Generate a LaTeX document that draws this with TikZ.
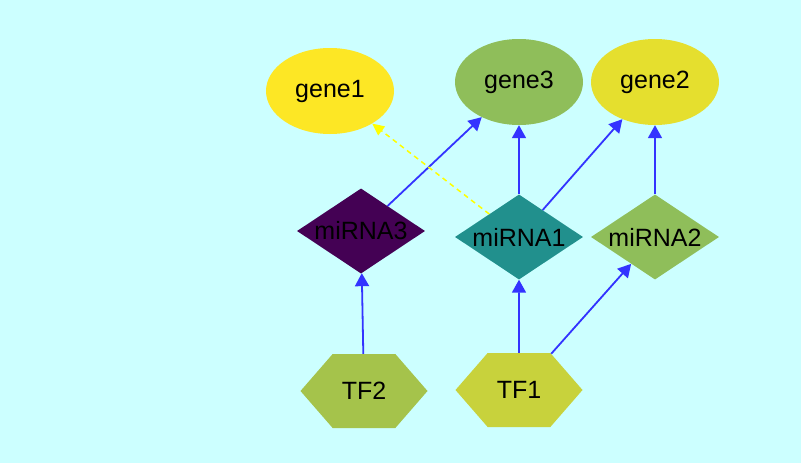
\documentclass[tikz,border=0pt]{standalone}
\usepackage{fontspec}
\setmainfont{Liberation Sans}
\usepackage{tikz}
\usetikzlibrary{arrows.meta,shapes.geometric,shapes.symbols}
\definecolor{bgcyan}{RGB}{204,255,255}
\definecolor{edgeblue}{RGB}{51,51,255}
\definecolor{dashyel}{RGB}{255,255,0}
\definecolor{gyellow}{RGB}{253,231,37}
\definecolor{ggreen}{RGB}{143,190,90}
\definecolor{gmustard}{RGB}{229,223,46}
\definecolor{mpurple}{RGB}{68,1,84}
\definecolor{mteal}{RGB}{33,144,141}
\definecolor{tfgreen}{RGB}{165,195,75}
\definecolor{tflime}{RGB}{200,210,60}
\tikzset{
  gene/.style={ellipse,draw=none,minimum width=128pt,minimum height=86pt,
               inner sep=0pt,font=\fontsize{25}{28}\selectfont},
  mirna/.style={diamond,aspect=1.5,draw=none,minimum width=128pt,minimum height=85pt,
                inner sep=0pt,font=\fontsize{25}{28}\selectfont},
  tf/.style={signal,signal to=east and west,signal pointer angle=98,draw=none,
             minimum width=127pt,minimum height=74pt,inner sep=0pt,
             font=\fontsize{25}{28}\selectfont},
  flow/.style={-{Triangle[length=13pt,width=14pt]},line width=1.8pt,draw=edgeblue},
  flowd/.style={-{Triangle[length=12pt,width=11pt]},line width=1.5pt,draw=dashyel,
                dash pattern=on 5pt off 4pt},
}
\begin{document}
\begin{tikzpicture}[x=1pt,y=-1pt]
  \fill[bgcyan] (0,0) rectangle (801,463);
  \useasboundingbox (0,0) rectangle (801,463);

  \node[gene,fill=gyellow] (gene1) at (330,91) {gene1};
  \node[gene,fill=ggreen] (gene3) at (519,82) {gene3};
  \node[gene,fill=gmustard] (gene2) at (655,82) {gene2};

  \node[mirna,fill=mpurple] (mirna3) at (361,231) {miRNA3};
  \node[mirna,fill=mteal] (mirna1) at (519,237) {miRNA1};
  \node[mirna,fill=ggreen] (mirna2) at (655,237) {miRNA2};

  \node[tf,fill=tfgreen] (tf2) at (364,391) {TF2};
  \node[tf,fill=tflime] (tf1) at (519,390) {TF1};

  \draw[flow] (tf2) -- (mirna3);
  \draw[flow] (tf1) -- (mirna1);
  \draw[flow] (tf1) -- (mirna2);
  \draw[flow] (mirna3) -- (gene3);
  \draw[flow] (mirna1) -- (gene3);
  \draw[flow] (mirna1) -- (gene2);
  \draw[flow] (mirna2) -- (gene2);
  \draw[flowd] (mirna1) -- (gene1);
\end{tikzpicture}
\end{document}
